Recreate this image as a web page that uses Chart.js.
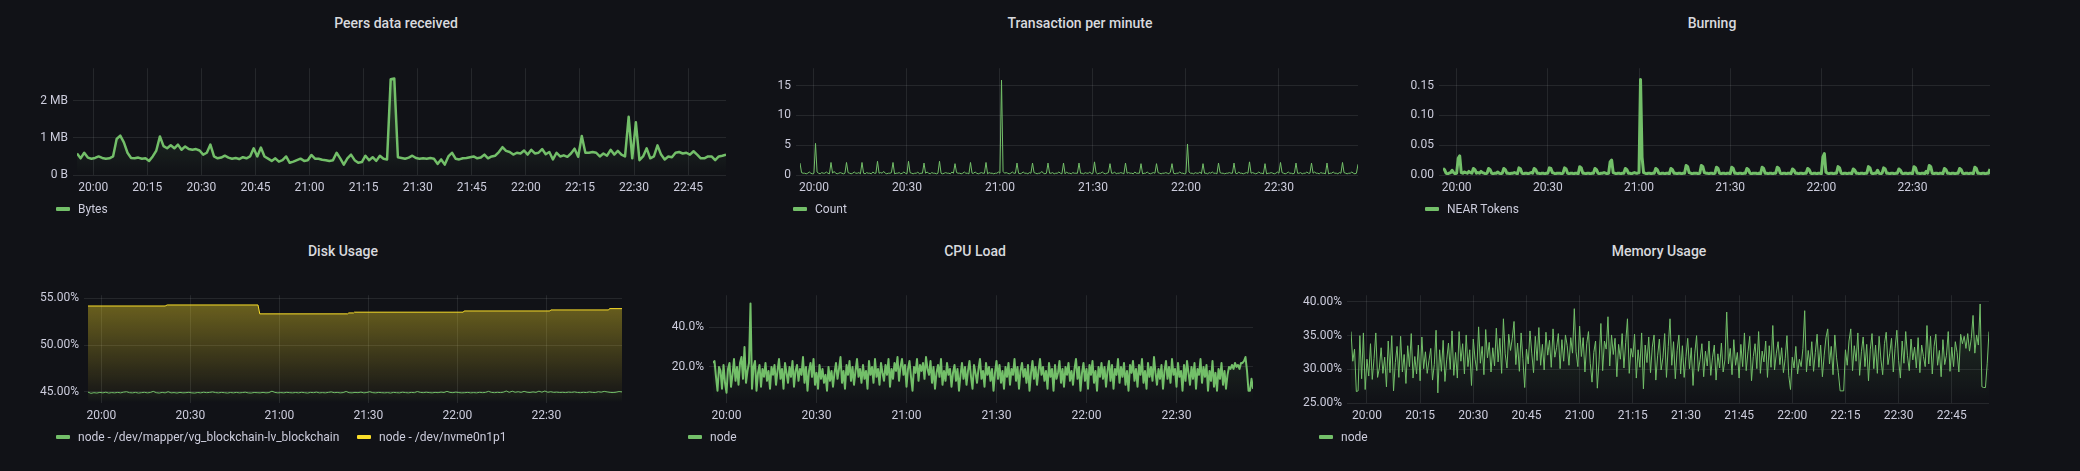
<!DOCTYPE html>
<html>
<head>
<meta charset="utf-8">
<script src="https://cdn.jsdelivr.net/npm/chart.js@4.4.1/dist/chart.umd.min.js"></script>
<style>
  html, body { margin: 0; padding: 0; background: #111217; }
  body { width: 2080px; height: 471px; position: relative; overflow: hidden; font-family: Roboto, "Noto Sans", sans-serif; }
  .panel-title { position: absolute; transform: translateX(-50%); font-size: 14px; font-weight: 500; color: #d8d9de; line-height: 16px; white-space: nowrap; }
  .legend { position: absolute; display: flex; align-items: center; font-size: 12px; color: #ccccdc; line-height: 14px; white-space: nowrap; }
  .legend i { display: inline-block; width: 14px; height: 4px; border-radius: 1px; margin-right: 8px; }
  canvas { position: absolute; }
</style>
</head>
<body>
<script>
// time axis: minutes relative to 20:00, window 19:55:30 .. 22:55:30
const X_MIN = -4.5;
const X_MAX = 175.5;

const xTicks15 = [0, 15, 30, 45, 60, 75, 90, 105, 120, 135, 150, 165];
const xLabels15 = ['20:00', '20:15', '20:30', '20:45', '21:00', '21:15', '21:30', '21:45', '22:00', '22:15', '22:30', '22:45'];
const xTicks30 = [0, 30, 60, 90, 120, 150];
const xLabels30 = ['20:00', '20:30', '21:00', '21:30', '22:00', '22:30'];

// sample clocks (1 min and 30 s steps)
function sampleTimes(step) {
  const out = [];
  for (let t = X_MIN; t <= X_MAX + 1e-9; t += step) out.push(+t.toFixed(2));
  return out;
}
const minuteTimes = sampleTimes(1);
const halfMinuteTimes = sampleTimes(0.5);

// Peers data received (MB), one per minute
const peersBytes = [
  0.58, 0.45, 0.6, 0.47, 0.44, 0.46, 0.5, 0.46, 0.44, 0.45, 0.5,
  0.97, 1.06, 0.88, 0.6, 0.46, 0.45, 0.47, 0.44, 0.45, 0.38,
  0.5, 0.66, 1.04, 0.78, 0.72, 0.8, 0.72, 0.82, 0.68, 0.77,
  0.7, 0.68, 0.7, 0.66, 0.55, 0.6, 0.82, 0.5, 0.45, 0.47,
  0.52, 0.47, 0.44, 0.46, 0.43, 0.48, 0.45, 0.5, 0.72, 0.5,
  0.74, 0.5, 0.44, 0.38, 0.45, 0.36, 0.4, 0.5, 0.33, 0.36,
  0.4, 0.44, 0.38, 0.4, 0.54, 0.44, 0.44, 0.41, 0.4, 0.38,
  0.4, 0.6, 0.45, 0.28, 0.45, 0.55, 0.4, 0.33, 0.35, 0.52,
  0.4, 0.48, 0.38, 0.52, 0.44, 0.42, 2.58, 2.6, 0.48, 0.46,
  0.44, 0.47, 0.52, 0.46, 0.44, 0.45, 0.44, 0.46, 0.44, 0.3,
  0.42, 0.28, 0.5, 0.6, 0.44, 0.42, 0.45, 0.46, 0.48, 0.5,
  0.45, 0.47, 0.55, 0.45, 0.5, 0.52, 0.62, 0.75, 0.65, 0.62,
  0.55, 0.6, 0.58, 0.66, 0.55, 0.68, 0.58, 0.6, 0.7, 0.56,
  0.62, 0.42, 0.6, 0.5, 0.53, 0.49, 0.58, 0.71, 0.49, 1.05,
  0.6, 0.6, 0.62, 0.6, 0.5, 0.58, 0.52, 0.68, 0.55, 0.65,
  0.55, 0.5, 1.57, 0.45, 1.42, 0.4, 0.5, 0.72, 0.45, 0.5,
  0.8, 0.55, 0.42, 0.5, 0.48, 0.6, 0.62, 0.58, 0.6, 0.55,
  0.64, 0.55, 0.45, 0.45, 0.5, 0.5, 0.4, 0.5, 0.52, 0.55
];

// Transactions per minute, every 30 s
const txCount = [
  2.0, 0.4, 0.3, 0.3, 0.2, 0.3, 0.5, 0.3, 0.2, 0.3,
  5.3, 0.5, 0.3, 0.2, 0.4, 0.3, 0.3, 0.5, 0.3, 0.2,
  2.1, 0.3, 0.6, 0.3, 0.2, 0.3, 0.4, 0.3, 0.2, 0.3,
  2.1, 0.4, 0.3, 0.2, 0.3, 0.5, 0.3, 0.3, 0.4, 0.2,
  2.1, 0.3, 0.2, 0.4, 0.3, 0.3, 0.2, 0.5, 0.3, 0.3,
  2.3, 0.3, 0.4, 0.3, 0.6, 0.3, 0.2, 0.3, 0.3, 0.4,
  2.1, 0.2, 0.3, 0.3, 0.4, 0.2, 0.3, 0.5, 0.3, 0.2,
  2.3, 0.4, 0.3, 0.2, 0.3, 0.3, 0.5, 0.2, 0.3, 0.3,
  2.0, 0.3, 0.5, 0.3, 0.2, 0.4, 0.3, 0.3, 0.2, 0.3,
  2.3, 0.3, 0.2, 0.3, 0.4, 0.3, 0.3, 0.2, 0.5, 0.3,
  1.9, 0.4, 0.3, 0.3, 0.2, 0.3, 0.5, 0.3, 0.3, 0.2,
  2.1, 0.3, 0.3, 0.5, 0.3, 0.2, 0.3, 0.4, 0.3, 0.3,
  2.1, 0.2, 0.4, 0.3, 0.3, 0.2, 0.3, 0.3, 0.5, 0.3,
  15.9, 0.6, 0.3, 0.4, 0.3, 0.2, 0.3, 0.5, 0.3, 0.3,
  2.0, 0.3, 0.2, 0.3, 0.5, 0.3, 0.3, 0.2, 0.4, 0.3,
  2.0, 0.4, 0.3, 0.2, 0.3, 0.3, 0.6, 0.3, 0.2, 0.3,
  2.0, 0.3, 0.3, 0.4, 0.2, 0.3, 0.3, 0.5, 0.3, 0.2,
  2.0, 0.2, 0.5, 0.3, 0.3, 0.2, 0.4, 0.3, 0.3, 0.3,
  2.0, 0.3, 0.3, 0.2, 0.4, 0.3, 0.3, 0.5, 0.2, 0.3,
  2.2, 0.4, 0.2, 0.3, 0.3, 0.5, 0.3, 0.2, 0.3, 0.4,
  1.9, 0.3, 0.3, 0.5, 0.2, 0.3, 0.3, 0.4, 0.3, 0.2,
  2.0, 0.3, 0.4, 0.3, 0.3, 0.2, 0.5, 0.3, 0.3, 0.3,
  1.9, 0.2, 0.3, 0.3, 0.5, 0.3, 0.2, 0.3, 0.4, 0.3,
  1.9, 0.4, 0.3, 0.2, 0.3, 0.3, 0.4, 0.3, 0.2, 0.5,
  1.9, 0.3, 0.2, 0.3, 0.3, 0.5, 0.3, 0.3, 0.2, 0.3,
  5.2, 0.5, 0.3, 0.3, 0.2, 0.4, 0.3, 0.3, 0.5, 0.2,
  1.9, 0.3, 0.3, 0.2, 0.4, 0.3, 0.5, 0.3, 0.3, 0.2,
  2.0, 0.4, 0.3, 0.3, 0.2, 0.3, 0.3, 0.4, 0.3, 0.3,
  2.0, 0.3, 0.2, 0.5, 0.3, 0.3, 0.2, 0.3, 0.4, 0.3,
  2.2, 0.3, 0.4, 0.3, 0.2, 0.3, 0.5, 0.3, 0.3, 0.2,
  1.9, 0.2, 0.3, 0.3, 0.4, 0.3, 0.2, 0.3, 0.5, 0.3,
  2.1, 0.4, 0.3, 0.2, 0.3, 0.5, 0.3, 0.3, 0.2, 0.3,
  2.0, 0.3, 0.3, 0.4, 0.2, 0.3, 0.3, 0.5, 0.3, 0.3,
  2.0, 0.3, 0.5, 0.3, 0.3, 0.2, 0.4, 0.3, 0.3, 0.2,
  2.0, 0.2, 0.3, 0.3, 0.5, 0.3, 0.3, 0.2, 0.4, 0.3,
  2.1, 0.4, 0.3, 0.2, 0.3, 0.3, 0.5, 0.3, 0.2, 0.3,
  1.8
];

// Burning (NEAR tokens), every 30 s
const burnTokens = [
  0.011, 0.009, 0.003, 0.002, 0.003, 0.004, 0.008, 0.004, 0.002, 0.003,
  0.028, 0.032, 0.004, 0.003, 0.005, 0.004, 0.003, 0.006, 0.004, 0.003,
  0.011, 0.009, 0.003, 0.004, 0.003, 0.006, 0.004, 0.003, 0.002, 0.003,
  0.011, 0.009, 0.003, 0.002, 0.003, 0.003, 0.005, 0.003, 0.002, 0.003,
  0.011, 0.009, 0.003, 0.003, 0.002, 0.003, 0.003, 0.004, 0.003, 0.002,
  0.012, 0.01, 0.003, 0.002, 0.003, 0.003, 0.002, 0.003, 0.004, 0.003,
  0.011, 0.009, 0.003, 0.003, 0.002, 0.003, 0.003, 0.002, 0.003, 0.003,
  0.012, 0.011, 0.004, 0.003, 0.002, 0.003, 0.003, 0.003, 0.002, 0.003,
  0.012, 0.01, 0.003, 0.002, 0.003, 0.003, 0.002, 0.003, 0.003, 0.002,
  0.014, 0.012, 0.003, 0.003, 0.002, 0.003, 0.003, 0.002, 0.003, 0.003,
  0.011, 0.009, 0.003, 0.002, 0.003, 0.003, 0.004, 0.003, 0.002, 0.003,
  0.022, 0.025, 0.004, 0.003, 0.002, 0.003, 0.003, 0.002, 0.003, 0.003,
  0.011, 0.009, 0.003, 0.003, 0.002, 0.003, 0.004, 0.003, 0.003, 0.004,
  0.16, 0.03, 0.004, 0.003, 0.002, 0.003, 0.003, 0.002, 0.003, 0.003,
  0.011, 0.009, 0.003, 0.002, 0.003, 0.003, 0.002, 0.003, 0.003, 0.002,
  0.011, 0.009, 0.003, 0.003, 0.002, 0.003, 0.003, 0.002, 0.003, 0.003,
  0.016, 0.014, 0.004, 0.003, 0.002, 0.003, 0.003, 0.003, 0.002, 0.003,
  0.016, 0.014, 0.004, 0.003, 0.003, 0.002, 0.003, 0.003, 0.002, 0.003,
  0.013, 0.011, 0.003, 0.002, 0.003, 0.003, 0.002, 0.003, 0.003, 0.002,
  0.013, 0.011, 0.003, 0.003, 0.002, 0.003, 0.003, 0.002, 0.003, 0.003,
  0.011, 0.009, 0.003, 0.002, 0.003, 0.003, 0.003, 0.002, 0.003, 0.002,
  0.013, 0.011, 0.003, 0.003, 0.002, 0.003, 0.003, 0.002, 0.003, 0.003,
  0.013, 0.011, 0.003, 0.002, 0.003, 0.003, 0.002, 0.003, 0.003, 0.002,
  0.01, 0.008, 0.003, 0.003, 0.002, 0.003, 0.003, 0.002, 0.003, 0.003,
  0.011, 0.009, 0.003, 0.002, 0.003, 0.003, 0.002, 0.003, 0.003, 0.002,
  0.03, 0.036, 0.005, 0.003, 0.002, 0.003, 0.003, 0.002, 0.003, 0.003,
  0.014, 0.012, 0.003, 0.002, 0.003, 0.003, 0.002, 0.003, 0.003, 0.002,
  0.01, 0.008, 0.003, 0.003, 0.002, 0.003, 0.003, 0.002, 0.003, 0.003,
  0.014, 0.012, 0.003, 0.002, 0.003, 0.003, 0.008, 0.003, 0.002, 0.003,
  0.012, 0.01, 0.003, 0.003, 0.002, 0.003, 0.003, 0.002, 0.003, 0.003,
  0.01, 0.008, 0.003, 0.002, 0.003, 0.003, 0.002, 0.003, 0.003, 0.002,
  0.014, 0.012, 0.003, 0.003, 0.002, 0.003, 0.003, 0.002, 0.006, 0.003,
  0.016, 0.014, 0.003, 0.002, 0.003, 0.003, 0.002, 0.003, 0.003, 0.002,
  0.011, 0.009, 0.003, 0.003, 0.002, 0.003, 0.003, 0.002, 0.003, 0.003,
  0.011, 0.009, 0.003, 0.002, 0.003, 0.003, 0.002, 0.003, 0.003, 0.002,
  0.013, 0.011, 0.003, 0.003, 0.002, 0.003, 0.003, 0.002, 0.003, 0.003,
  0.01
];

// Disk usage (%), /dev/mapper/vg_blockchain-lv_blockchain, one per minute
const diskMapper = [
  44.98, 44.85, 44.92, 44.88, 44.95, 44.9, 44.97, 44.88, 44.93, 44.9,
  44.95, 44.9, 44.98, 45.02, 44.92, 44.9, 44.95, 44.88, 44.92, 44.96,
  44.9, 44.94, 45.06, 44.92, 44.88, 44.95, 44.9, 45.02, 44.9, 44.93,
  44.88, 44.95, 44.9, 44.92, 44.96, 44.9, 44.88, 44.94, 44.9, 44.97,
  44.92, 44.95, 45.0, 44.93, 44.9, 44.95, 44.92, 44.88, 44.94, 44.9,
  44.95, 44.9, 44.93, 44.97, 44.9, 44.88, 44.94, 44.92, 44.9, 44.95,
  44.9, 44.93, 45.08, 44.95, 44.9, 44.93, 44.9, 44.96, 44.92, 44.9,
  44.94, 44.9, 44.96, 44.92, 44.88, 44.95, 44.92, 44.98, 44.9, 44.93,
  44.9, 44.95, 45.0, 44.92, 44.95, 44.9, 44.93, 45.05, 44.92, 44.9,
  44.95, 44.92, 44.98, 44.9, 44.94, 45.02, 44.92, 44.9, 44.95, 44.92,
  44.9, 44.93, 44.88, 44.95, 44.92, 44.9, 44.97, 44.93, 44.9, 44.95,
  44.92, 45.04, 44.95, 44.92, 44.97, 44.93, 44.9, 44.95, 44.92, 44.98,
  44.94, 45.06, 44.95, 44.92, 44.98, 44.93, 44.9, 44.92, 44.95, 44.9,
  44.93, 44.9, 44.96, 44.92, 44.95, 45.06, 44.95, 44.92, 44.96, 44.93,
  44.97, 45.1, 44.95, 45.08, 44.96, 45.02, 44.95, 45.06, 44.97, 44.94,
  45.0, 44.95, 45.08, 44.97, 45.1, 44.96, 45.02, 44.95, 44.98, 44.94,
  44.96, 44.93, 44.98, 44.95, 45.0, 44.94, 44.92, 44.96, 44.93, 45.0,
  44.95, 44.93, 45.02, 44.97, 45.06, 45.0, 44.95, 44.93, 44.97, 45.04,
  45.0
];

// Disk usage (%), /dev/nvme0n1p1: step changes
const nvmeTimes = [-4.5, 21.5, 22.2, 52.8, 53.4, 83.0, 83.4, 85.0, 85.3, 122.0, 122.3, 151.2, 151.5, 171.0, 171.3, 175.5];
const nvmeValues = [54.16, 54.16, 54.27, 54.27, 53.32, 53.32, 53.42, 53.42, 53.5, 53.5, 53.63, 53.63, 53.74, 53.74, 53.88, 53.88];

// CPU load (%), every 30 s
const cpuLoad = [
  22, 23, 15, 8, 20, 18, 9, 21, 12, 7, 19, 22, 10, 16, 24, 13, 20, 11, 22, 25,
  14, 30, 12, 18, 22, 52, 9, 20, 23, 8, 17, 21, 10, 19, 15, 22, 13, 18, 9, 20,
  16, 21, 11, 18, 24, 14, 19, 9, 22, 17, 12, 20, 15, 23, 10, 18, 21, 13, 19, 16,
  25, 12, 20, 8, 18, 22, 15, 24, 11, 17, 9, 21, 14, 19, 12, 16, 8, 20, 13, 18,
  10, 17, 22, 14, 19, 25, 12, 18, 9, 21, 16, 23, 13, 20, 11, 18, 24, 15, 19, 12,
  21, 14, 18, 9, 23, 16, 20, 12, 24, 15, 19, 11, 22, 17, 13, 21, 16, 24, 10, 19,
  14, 22, 18, 25, 13, 20, 24, 16, 21, 10, 19, 23, 15, 8, 20, 17, 24, 13, 21, 18,
  22, 14, 25, 19, 16, 23, 12, 20, 9, 17, 21, 15, 24, 11, 18, 13, 22, 16, 19, 10,
  17, 21, 13, 19, 8, 16, 22, 14, 20, 11, 18, 23, 15, 9, 21, 17, 12, 19, 24, 14,
  18, 10, 22, 16, 20, 13, 19, 8, 17, 23, 14, 21, 12, 18, 9, 20, 15, 22, 11, 19,
  16, 24, 13, 20, 9, 18, 22, 15, 19, 12, 21, 8, 17, 23, 14, 20, 11, 18, 24, 16,
  20, 13, 18, 9, 22, 15, 19, 8, 21, 14, 17, 23, 12, 19, 10, 20, 16, 22, 13, 18,
  11, 19, 24, 14, 20, 8, 17, 22, 13, 19, 9, 21, 16, 23, 12, 18, 8, 20, 15, 22,
  14, 20, 10, 18, 23, 13, 21, 9, 19, 16, 24, 12, 20, 15, 22, 11, 18, 8, 21, 17,
  23, 13, 19, 10, 21, 16, 24, 12, 18, 9, 22, 15, 20, 13, 25, 17, 11, 19, 14, 21,
  9, 18, 23, 14, 20, 12, 24, 16, 19, 10, 22, 15, 18, 8, 21, 13, 23, 17, 11, 20,
  14, 22, 9, 19, 16, 24, 12, 20, 15, 21, 8, 18, 13, 23, 10, 17, 8, 19, 14, 22,
  11, 18, 9, 16, 20, 19, 21, 19, 22, 20, 21, 19, 22, 22, 23, 25, 18, 8, 8, 14,
  9
];

// Memory usage (%), every 30 s
const memUsage = [
  35.6, 31.2, 33, 26.7, 26.8, 35, 28.6, 35.4, 27, 31.5, 29, 33.8, 28.5, 31.6, 35.4, 28.8, 30.2, 33.2, 29.4, 31.8,
  27.4, 34.2, 29.5, 35, 26.8, 31, 33.4, 28.8, 34.9, 29.6, 32.2, 27.9, 33.5, 30.4, 35.3, 28.7, 31.9, 29.3, 33.6, 28.3,
  34.8, 30.1, 32.6, 29.4, 31.3, 33.1, 28.4, 30.7, 35.8, 26.5, 32.9, 29.7, 34.3, 28.2, 31.4, 33.9, 30, 35.7, 29.1, 32.5,
  28.7, 35.6, 31.2, 33.8, 29.3, 35.1, 30.4, 32.9, 27.6, 34.5, 31.5, 29.8, 36.3, 30.9, 33.4, 29.2, 35.9, 31.7, 34, 29.6,
  33.2, 30.5, 36.1, 31.1, 34.6, 29.4, 37.5, 32.3, 30.2, 35.2, 32.8, 34.6, 37.1, 30.7, 33.9, 29.7, 35.4, 31.6, 27.3, 33,
  30.8, 35.7, 32.4, 29.5, 34.9, 31.3, 36.2, 30.6, 33.7, 29.9, 35.5, 32.1, 34.3, 30.3, 36, 31.8, 33.2, 35.3, 30.1, 34.4,
  31.2, 35.1, 33.5, 30.6, 34.7, 32.4, 39, 32.6, 30.4, 36.4, 31.9, 34.7, 29.6, 33.8, 35.6, 30.9, 28.1, 32.5, 34.2, 27.2,
  31.4, 36.8, 29.8, 34.2, 33, 37.8, 30.5, 35.1, 32.2, 34.6, 28.9, 33.7, 31.5, 35.3, 30.2, 34, 37.5, 29.4, 33.1, 31.8,
  35.2, 28.7, 32.9, 30.3, 35.4, 27.1, 33.6, 31, 34.8, 29.5, 33.3, 35.1, 28.4, 32, 34.5, 29.9, 31.7, 35.3, 28.8, 33.4,
  37.5, 30.6, 34.1, 28.6, 32.8, 35.1, 29.3, 33.5, 28.8, 31.9, 34.6, 30.1, 33.2, 27.6, 32.4, 35, 29.7, 31.5, 33.8, 28.9,
  32.7, 30.5, 34.2, 29.1, 31.8, 33.6, 28.4, 32.3, 30.2, 33.9, 29.6, 31.4, 38.5, 30.8, 33.1, 29.2, 34.4, 30.6, 32.5, 28.7,
  33.7, 30.4, 35.4, 29.8, 32.6, 34.9, 28.3, 31.9, 33.8, 30.1, 35.6, 29.4, 32.7, 31.1, 34.2, 28.8, 33.5, 30.3, 36.5, 29.9,
  32.4, 34.1, 30.7, 33.2, 29.5, 31.6, 35, 29.1, 27, 31.8, 30.2, 33.4, 29.3, 31.5, 30.4, 33.1, 38.7, 29.6, 32.8, 30.5,
  34.1, 29.7, 32.5, 35.2, 30.3, 33.6, 28.9, 32.1, 34.7, 36, 30.8, 33.4, 29.2, 35.1, 31.7, 29.5, 26.8, 26.8, 26.8, 32.9,
  30.6, 34.2, 36, 29.8, 33.5, 31.2, 35.4, 29.1, 32.6, 34.8, 30.4, 33.7, 28.3, 32.9, 35.3, 30.1, 33.6, 29.4, 34.9, 31.5,
  29.2, 33.8, 35.5, 30.7, 32.4, 34.6, 29.6, 33.1, 35.8, 31.3, 28.7, 34.2, 30.9, 35.6, 32, 29.8, 34.5, 31.4, 33.3, 30.2,
  34.7, 29.5, 33.6, 31.9, 30.4, 36.5, 30.8, 34.9, 29.3, 33.4, 35.2, 30.6, 32.8, 28.9, 34.4, 30.7, 32.1, 35.6, 29.7, 33.3,
  30.4, 34.1, 32.5, 29.6, 35.2, 33.8, 34.9, 33.1, 35.3, 32.7, 34.6, 38, 32.4, 35.1, 33.6, 39.7, 27.4, 27.3, 27.3, 30.9,
  35.6
];

// y axis ticks
const peersTicks = [0, 1, 2];
const peersLabels = ['0 B', '1 MB', '2 MB'];
const txTicks = [0, 5, 10, 15];
const txLabels = ['0', '5', '10', '15'];
const burnTicks = [0, 0.05, 0.1, 0.15];
const burnLabels = ['0.00', '0.05', '0.10', '0.15'];
const diskTicks = [45, 50, 55];
const diskLabels = ['45.00%', '50.00%', '55.00%'];
const cpuTicks = [20, 40];
const cpuLabels = ['20.0%', '40.0%'];
const memTicks = [25, 30, 35, 40];
const memLabels = ['25.00%', '30.00%', '35.00%', '40.00%'];

const GREEN = '#73BF69';
const YELLOW = '#FADE2A';
const GRID = 'rgba(240,250,255,0.09)';
const TEXT = '#ccccdc';
const Y_W = 80, X_H = 30, PAD_T = 10, PAD_R = 10;

function fillGradient(rgb, alpha) {
  return (ctx) => {
    const { chart } = ctx;
    const a = chart.chartArea;
    if (!a) return 'transparent';
    const g = chart.ctx.createLinearGradient(0, a.top, 0, a.bottom);
    g.addColorStop(0, `rgba(${rgb},${alpha})`);
    g.addColorStop(1, `rgba(${rgb},0)`);
    return g;
  };
}

function addTitle(text, cx, cy) {
  const d = document.createElement('div');
  d.className = 'panel-title';
  d.textContent = text;
  d.style.left = cx + 'px';
  d.style.top = (cy - 8) + 'px';
  document.body.appendChild(d);
}

function addLegend(text, color, x, cy) {
  const d = document.createElement('div');
  d.className = 'legend';
  d.style.left = x + 'px';
  d.style.top = (cy - 7) + 'px';
  const sw = document.createElement('i');
  sw.style.background = color;
  d.appendChild(sw);
  d.appendChild(document.createTextNode(text));
  document.body.appendChild(d);
}

function lineSet(data, color, width, fillAlpha, rgb) {
  return {
    data,
    borderColor: color,
    borderWidth: width,
    backgroundColor: fillGradient(rgb, fillAlpha),
    fill: 'start',
    pointRadius: 0,
    tension: 0,
    borderJoinStyle: 'round',
  };
}

function makePanel({ box, labels, xTicks, xLabels, yMin, yMax, yTicks, yLabels, datasets }) {
  const canvas = document.createElement('canvas');
  const w = Y_W + (box.right - box.left) + PAD_R;
  const h = PAD_T + (box.bottom - box.top) + X_H;
  canvas.width = w;
  canvas.height = h;
  canvas.style.width = w + 'px';
  canvas.style.height = h + 'px';
  canvas.style.left = (box.left - Y_W) + 'px';
  canvas.style.top = (box.top - PAD_T) + 'px';
  document.body.appendChild(canvas);

  const tickFont = { family: 'Roboto', size: 12 };

  return new Chart(canvas.getContext('2d'), {
    type: 'line',
    data: { labels, datasets },
    options: {
      responsive: false,
      animation: false,
      events: [],
      layout: { autoPadding: false, padding: { top: PAD_T, right: PAD_R, left: 0, bottom: 0 } },
      plugins: { legend: { display: false }, tooltip: { enabled: false } },
      scales: {
        x: {
          type: 'linear',
          bounds: 'data',
          min: X_MIN,
          max: X_MAX,
          afterBuildTicks: s => { s.ticks = xTicks.map(v => ({ value: v })); },
          afterFit: s => { s.height = X_H; },
          ticks: { autoSkip: false, maxRotation: 0, padding: 6, color: TEXT, font: tickFont, callback: (v, i) => xLabels[i] },
          grid: { color: GRID, drawTicks: false },
          border: { display: false },
        },
        y: {
          type: 'linear',
          bounds: 'data',
          min: yMin,
          max: yMax,
          afterBuildTicks: s => { s.ticks = yTicks.map(v => ({ value: v })); },
          afterFit: s => { s.width = Y_W; },
          ticks: { padding: 5, color: TEXT, font: tickFont, callback: (v, i) => yLabels[i] },
          grid: { color: GRID, tickLength: 4, tickColor: GRID },
          border: { display: false },
        },
      },
    },
  });
}

// ---- row 1 ----
addTitle('Peers data received', 396, 23);
makePanel({
  box: { left: 77, right: 726, top: 66, bottom: 175 },
  labels: minuteTimes, xTicks: xTicks15, xLabels: xLabels15,
  yMin: 0, yMax: 2.88, yTicks: peersTicks, yLabels: peersLabels,
  datasets: [lineSet(peersBytes, GREEN, 2.5, 0.3, '115,191,105')],
});
addLegend('Bytes', GREEN, 56, 209);

addTitle('Transaction per minute', 1080, 23);
makePanel({
  box: { left: 800, right: 1358, top: 66, bottom: 175 },
  labels: halfMinuteTimes, xTicks: xTicks30, xLabels: xLabels30,
  yMin: 0, yMax: 17.9, yTicks: txTicks, yLabels: txLabels,
  datasets: [lineSet(txCount, GREEN, 1, 0.15, '115,191,105')],
});
addLegend('Count', GREEN, 793, 209);

addTitle('Burning', 1712, 23);
makePanel({
  box: { left: 1443, right: 1990, top: 66, bottom: 175 },
  labels: halfMinuteTimes, xTicks: xTicks30, xLabels: xLabels30,
  yMin: 0, yMax: 0.179, yTicks: burnTicks, yLabels: burnLabels,
  datasets: [lineSet(burnTokens, GREEN, 3, 0.3, '115,191,105')],
});
addLegend('NEAR Tokens', GREEN, 1425, 209);

// ---- row 2 ----
addTitle('Disk Usage', 343, 251);
makePanel({
  box: { left: 88, right: 622, top: 293, bottom: 403 },
  labels: minuteTimes, xTicks: xTicks30, xLabels: xLabels30,
  yMin: 43.82, yMax: 55.31, yTicks: diskTicks, yLabels: diskLabels,
  datasets: [
    lineSet(diskMapper.map((v, i) => ({ x: minuteTimes[i], y: v })), GREEN, 1, 0.4, '115,191,105'),
    lineSet(nvmeValues.map((v, i) => ({ x: nvmeTimes[i], y: v })), YELLOW, 1, 0.42, '250,222,42'),
  ],
});
addLegend('node - /dev/mapper/vg_blockchain-lv_blockchain', GREEN, 56, 437);
addLegend('node - /dev/nvme0n1p1', YELLOW, 357, 437);

addTitle('CPU Load', 975, 251);
makePanel({
  box: { left: 713, right: 1253, top: 293, bottom: 403 },
  labels: halfMinuteTimes, xTicks: xTicks30, xLabels: xLabels30,
  yMin: 1.8, yMax: 56.2, yTicks: cpuTicks, yLabels: cpuLabels,
  datasets: [lineSet(cpuLoad, GREEN, 2, 0.25, '115,191,105')],
});
addLegend('node', GREEN, 688, 437);

addTitle('Memory Usage', 1659, 251);
makePanel({
  box: { left: 1351, right: 1989, top: 293, bottom: 403 },
  labels: halfMinuteTimes, xTicks: xTicks15, xLabels: xLabels15,
  yMin: 25, yMax: 41, yTicks: memTicks, yLabels: memLabels,
  datasets: [lineSet(memUsage, GREEN, 1, 0.2, '115,191,105')],
});
addLegend('node', GREEN, 1319, 437);
</script>
</body>
</html>
